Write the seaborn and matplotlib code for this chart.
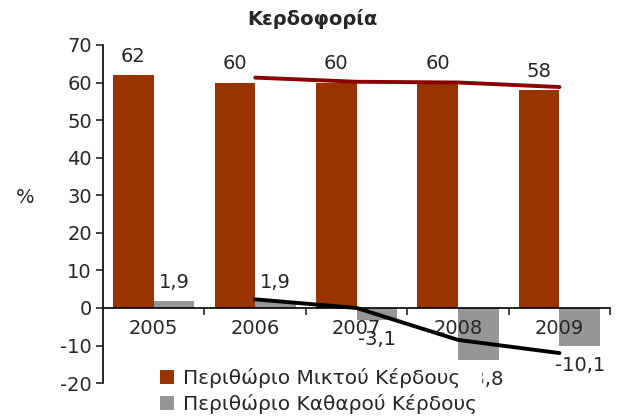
import matplotlib
matplotlib.use("Agg")
import matplotlib.pyplot as plt
import seaborn as sns
import pandas as pd

years = ["2005", "2006", "2007", "2008", "2009"]
gross_margin = [62, 60, 60, 60, 58]
net_margin = [1.9, 1.9, -3.1, -13.8, -10.1]
gross_labels = ["62", "60", "60", "60", "58"]
net_labels = ["1,9", "1,9", "-3,1", "-13,8", "-10,1"]
series_names = ["Περιθώριο Μικτού Κέρδους", "Περιθώριο Καθαρού Κέρδους"]
trend_x = [1, 2, 3, 4]
gross_trend = [61.3, 60.2, 60.0, 58.8]
net_trend = [2.3, 0.0, -8.5, -12.0]
title = "Κερδοφορία"
y_label = "%"

sns.set_style("white")
plt.rcParams["font.family"] = ["DejaVu Sans"]
plt.rcParams["axes.unicode_minus"] = False

df = pd.DataFrame({
    "year": years * 2,
    "series": [series_names[0]] * 5 + [series_names[1]] * 5,
    "value": gross_margin + net_margin,
})

fig = plt.figure(figsize=(6.17, 4.16), dpi=100)
ax = fig.add_axes([0.167, 0.079, 0.822, 0.813])

sns.barplot(data=df, x="year", y="value", hue="series", order=years,
            hue_order=series_names, palette=["#993300", "#969696"],
            width=0.8, saturation=1, linewidth=0, ax=ax, legend=True)

sns.lineplot(x=trend_x, y=gross_trend, color="#8B0000", lw=2.8, ax=ax,
             legend=False, zorder=3)
sns.lineplot(x=trend_x, y=net_trend, color="black", lw=2.8, ax=ax,
             legend=False, zorder=3)

fs = 14
for i in range(5):
    v = gross_margin[i]
    ax.annotate(gross_labels[i], (i - 0.2, v), xytext=(0, 13.5), textcoords="offset points",
                ha="center", va="center", fontsize=fs, clip_on=False, zorder=3)
    v = net_margin[i]
    off = 13 if v >= 0 else -14
    ax.annotate(net_labels[i], (i + 0.2, v), xytext=(0, off), textcoords="offset points",
                ha="center", va="center", fontsize=fs, clip_on=False, zorder=3)

ax.set_ylim(-20, 70)
ax.set_xlim(-0.5, 4.5)
ax.set_yticks(range(-20, 71, 10))
ax.tick_params(axis="y", labelsize=fs, length=5, width=1.2, direction="out", left=True, pad=3)
ax.set_xticks(range(5))
ax.set_xticklabels(years)
ax.set_xticks([-0.5, 0.5, 1.5, 2.5, 3.5, 4.5], minor=True)
ax.tick_params(axis="x", which="major", length=0, labelsize=fs, pad=8)
ax.tick_params(axis="x", which="minor", length=5, width=1.2, direction="out", bottom=True)
ax.set_axisbelow(False)

for s in ["top", "right"]:
    ax.spines[s].set_visible(False)
ax.spines["bottom"].set_position(("data", 0))
for s in ["left", "bottom"]:
    ax.spines[s].set_linewidth(1.2)
    ax.spines[s].set_color("black")

ax.set_xlabel("")
ax.set_ylabel(y_label, rotation=0, fontsize=fs, va="center", ha="center")
ax.yaxis.set_label_coords(-0.153, 0.55)

fig.text(0.507, 0.955, title, ha="center", va="center", fontsize=14, fontweight="bold")

leg = ax.legend(loc="upper left", bbox_to_anchor=(0.253, 0.124),
                bbox_transform=fig.transFigure, frameon=True, fontsize=14.5,
                handlelength=0.7, handleheight=0.7, handletextpad=0.45,
                labelspacing=0.28, borderpad=0.2, borderaxespad=0)
leg.get_frame().set_facecolor("white")
leg.get_frame().set_edgecolor("white")
leg.get_frame().set_alpha(1)
leg.get_frame().set_boxstyle("square", pad=0)
leg.set_zorder(10)

fig.savefig("out.png", dpi=100)
